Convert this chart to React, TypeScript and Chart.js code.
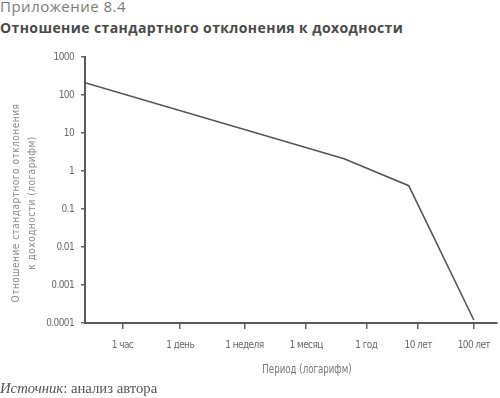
import React, { useEffect, useRef } from "react";
import { Chart, registerables } from "chart.js";

Chart.register(...registerables);

// ---- data ----
const periodLabels = ["1 час", "1 день", "1 неделя", "1 месяц", "1 год", "10 лет", "100 лет"];
// positions of the period ticks on the (log-like) horizontal axis, 0..10 units
const periodTickPositions = [0.91, 2.31, 3.87, 5.37, 6.83, 8.09, 9.44];
// series: period position and ratio of std deviation to return
const seriesPeriod = [0, 6.29, 7.86, 9.44];
const seriesRatio = [210, 2.1, 0.41, 0.00012];
const yTickValues = [1000, 100, 10, 1, 0.1, 0.01, 0.001, 0.0001];
const yTickLabels = ["1000", "100", "10", "1", "0.1", "0.01", "0.001", "0.0001"];

const NARROW = "'DejaVu Sans Condensed', 'Liberation Sans Narrow', sans-serif";

const condensePlugin = {
  id: "condense",
  beforeUpdate(chart: any) {
    chart.ctx.letterSpacing = "-0.6px";
  },
  beforeDraw(chart: any) {
    chart.ctx.letterSpacing = "-0.6px";
  },
};

export default function App() {
  const canvasRef = useRef<HTMLCanvasElement | null>(null);

  useEffect(() => {
    const canvas = canvasRef.current;
    if (!canvas) return;
    const chart = new Chart(canvas, {
      type: "scatter",
      data: {
        datasets: [
          {
            data: seriesPeriod.map((x, i) => ({ x, y: seriesRatio[i] })),
            showLine: true,
            borderColor: "#555555",
            borderWidth: 1.6,
            pointRadius: 0,
            fill: false,
            tension: 0,
          },
        ],
      },
      plugins: [condensePlugin],
      options: {
        responsive: false,
        animation: false,
        layout: { padding: { top: 57, left: 0, right: 0, bottom: 0 } },
        plugins: {
          legend: { display: false },
          tooltip: { enabled: false },
          title: { display: false },
        },
        scales: {
          x: {
            type: "linear",
            min: 0,
            max: 10,
            afterBuildTicks: (s: any) => {
              s.ticks = periodTickPositions.map((v) => ({ value: v }));
            },
            afterFit: (s: any) => {
              s.height = 75;
            },
            ticks: {
              autoSkip: false,
              maxRotation: 0,
              minRotation: 0,
              padding: 10,
              color: "#6a6a6a",
              font: { family: NARROW, size: 10 },
              callback: (_v: any, i: number) => periodLabels[i],
            },
            grid: {
              display: true,
              drawOnChartArea: false,
              drawTicks: true,
              tickLength: 6,
              color: "#666666",
              lineWidth: 1.5,
            },
            border: { display: true, color: "#5a5a5a", width: 2 },
          },
          y: {
            type: "logarithmic",
            min: 0.0001,
            max: 1000,
            afterBuildTicks: (s: any) => {
              s.ticks = yTickValues.map((v) => ({ value: v }));
            },
            afterFit: (s: any) => {
              s.width = 85;
            },
            ticks: {
              autoSkip: false,
              padding: 7,
              color: "#6a6a6a",
              font: { family: NARROW, size: 10 },
              callback: (_v: any, i: number) => yTickLabels[i],
            },
            grid: {
              display: true,
              drawOnChartArea: false,
              drawTicks: true,
              tickLength: 4,
              color: "#666666",
              lineWidth: 1.5,
            },
            border: { display: true, color: "#5a5a5a", width: 2 },
          },
        },
      },
    });
    return () => chart.destroy();
  }, []);

  return (
    <div
      style={{
        position: "absolute",
        left: 0,
        top: 0,
        width: 500,
        height: 398,
        overflow: "hidden",
        background: "#ffffff",
      }}
    >
      <div
        style={{
          position: "absolute",
          left: 0,
          top: -0.8,
          font: "400 15px 'Open Sans', sans-serif",
          lineHeight: "15px",
          letterSpacing: "0.5px",
          color: "#7b7b7b",
          whiteSpace: "nowrap",
        }}
      >
        Приложение 8.4
      </div>
      <div
        style={{
          position: "absolute",
          left: 0,
          top: 20.6,
          font: "700 14px 'Open Sans', sans-serif",
          lineHeight: "14px",
          letterSpacing: "0.4px",
          color: "#4a4a4a",
          whiteSpace: "nowrap",
        }}
      >
        Отношение стандартного отклонения к доходности
      </div>
      <canvas
        ref={canvasRef}
        width={500}
        height={398}
        style={{ position: "absolute", left: 0, top: 0, width: 500, height: 398, display: "block" }}
      />
      <div
        style={{
          position: "absolute",
          left: 23.5 - 130,
          top: 202.8 - 16,
          width: 260,
          height: 32,
          transform: "rotate(-90deg)",
          transformOrigin: "center center",
          textAlign: "center",
          font: `400 10px ${NARROW}`,
          lineHeight: "16px",
          letterSpacing: "0.5px",
          color: "#8a8a8a",
          whiteSpace: "nowrap",
        }}
      >
        <div>Отношение стандартного отклонения</div>
        <div>к доходности (логарифм)</div>
      </div>
      <div
        style={{
          position: "absolute",
          left: 207,
          top: 363.1,
          width: 200,
          textAlign: "center",
          font: `400 12px ${NARROW}`,
          lineHeight: "12px",
          color: "#777777",
          whiteSpace: "nowrap",
          transform: "scaleX(0.8)",
          transformOrigin: "center center",
        }}
      >
        Период (логарифм)
      </div>
      <div
        style={{
          position: "absolute",
          left: 0,
          top: 381.4,
          font: "400 14.7px 'Liberation Serif', serif",
          lineHeight: "14.7px",
          color: "#555555",
          whiteSpace: "nowrap",
        }}
      >
        <i>Источник</i>: анализ автора
      </div>
    </div>
  );
}
